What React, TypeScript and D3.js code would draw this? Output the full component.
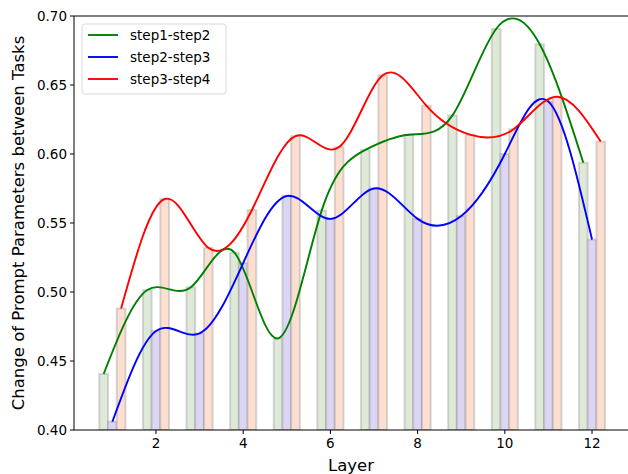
import React from "react";
import * as d3 from "d3";

const layers = [1, 2, 3, 4, 5, 6, 7, 8, 9, 10, 11, 12];
const step12 = [0.4406, 0.5014, 0.5034, 0.5285, 0.4664, 0.559, 0.603, 0.614, 0.628, 0.6906, 0.6795, 0.5937];
const step23 = [0.406, 0.4717, 0.47, 0.521, 0.5696, 0.553, 0.575, 0.553, 0.555, 0.6, 0.638, 0.538];
const step34 = [0.488, 0.5674, 0.532, 0.5594, 0.613, 0.605, 0.657, 0.635, 0.614, 0.618, 0.6415, 0.609];
const seriesNames = ["step1-step2", "step2-step3", "step3-step4"];
const yTicks = [0.4, 0.45, 0.5, 0.55, 0.6, 0.65, 0.7];
const xTicks = [2, 4, 6, 8, 10, 12];

const W = 628, H = 474;
const L = 74, T = 16, B = 430;

export default function App() {
  const x = d3.scaleLinear().domain([0.12, 12.88]).range([L, 630.4]);
  const y = d3.scaleLinear().domain([0.4, 0.7]).range([B, T]);
  const bw = 0.2;
  const series = [
    { name: seriesNames[0], vals: step12, off: -0.2, line: "#008000", fill: "#dfe9d8" },
    { name: seriesNames[1], vals: step23, off: 0, line: "#0000ff", fill: "#dcd6f4" },
    { name: seriesNames[2], vals: step34, off: 0.2, line: "#ff0000", fill: "#fcdfd0" },
  ];
  const font = "DejaVu Sans, sans-serif";
  return (
    <svg width={W} height={H} style={{ position: "absolute", left: 0, top: 0 }} fontFamily={font}>
      <rect width={W} height={H} fill="#fff" />
      <defs>
        <clipPath id="plot">
          <rect x={L} y={T} width={630 - L} height={B - T} />
        </clipPath>
      </defs>
      <g clipPath="url(#plot)">
        {series.map((s) =>
          s.vals.map((v, i) => {
            const x0 = x(layers[i] + s.off - bw / 2);
            const x1 = x(layers[i] + s.off + bw / 2);
            return (
              <rect key={s.name + i} x={x0} y={y(v)} width={x1 - x0} height={B - y(v)}
                fill={s.fill} stroke="rgba(128,128,128,0.3)" strokeWidth={2} />
            );
          })
        )}
        {series.map((s) => {
          const pts: [number, number][] = s.vals.map((v, i) => [x(layers[i] + s.off), y(v)]);
          const p = d3.line().curve(d3.curveNatural)(pts) || "";
          return <path key={s.name} d={p} fill="none" stroke={s.line} strokeWidth={1.9} />;
        })}
      </g>
      {/* spines */}
      <line x1={L} x2={L} y1={T} y2={B} stroke="#000" strokeWidth={1} />
      <line x1={L} x2={W} y1={B} y2={B} stroke="#000" strokeWidth={1} />
      <line x1={L} x2={W} y1={T} y2={T} stroke="#000" strokeWidth={1} />
      {yTicks.map((t) => (
        <g key={t}>
          <line x1={L - 4} x2={L} y1={y(t)} y2={y(t)} stroke="#000" />
          <text x={L - 7} y={y(t)} dy="0.35em" textAnchor="end" fontSize={13.5}>{t.toFixed(2)}</text>
        </g>
      ))}
      {xTicks.map((t) => (
        <g key={t}>
          <line x1={x(t)} x2={x(t)} y1={B} y2={B + 4} stroke="#000" />
          <text x={x(t)} y={B + 18} textAnchor="middle" fontSize={13.5}>{t}</text>
        </g>
      ))}
      <text x={351} y={471} textAnchor="middle" fontSize={16.5}>Layer</text>
      <text transform={`translate(24,${(T + B) / 2}) rotate(-90)`} textAnchor="middle" fontSize={16.5}>
        Change of Prompt Parameters between Tasks
      </text>
      {/* legend */}
      <rect x={82} y={24} width={144} height={70} rx={3} fill="#fff" fillOpacity={0.8} stroke="#d8d8d8" />
      {series.map((s, i) => (
        <g key={s.name}>
          <line x1={88} x2={118} y1={35 + i * 22} y2={35 + i * 22} stroke={s.line} strokeWidth={1.9} />
          <text x={130} y={35 + i * 22} dy="0.35em" fontSize={13.5}>{s.name}</text>
        </g>
      ))}
    </svg>
  );
}
